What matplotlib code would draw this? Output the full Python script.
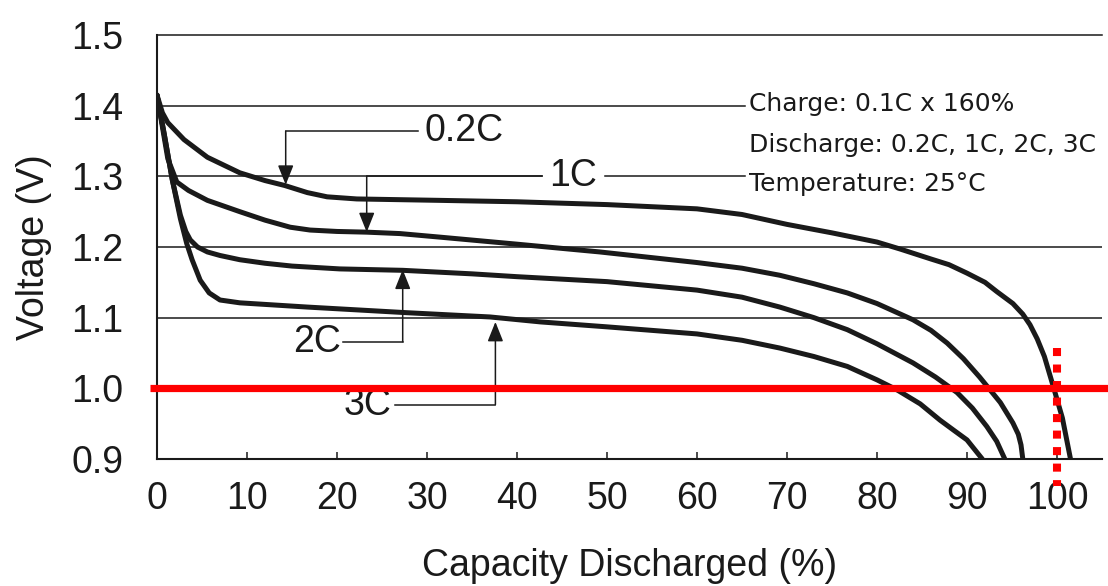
import matplotlib
matplotlib.use("Agg")
import matplotlib.pyplot as plt

# ---- data ----
x_02c = [0, 0.6, 1.2, 3, 5.6, 9.2, 12, 14.2, 16.7, 18.9, 22.2, 31.4, 40, 50, 60, 65, 70, 75, 80,
         82.6, 86, 88, 90, 92, 93.3, 95.1, 96.2, 97, 97.8, 98.6, 99.6, 100.6, 101.5]
v_02c = [1.415, 1.39, 1.376, 1.352, 1.327, 1.305, 1.294, 1.287, 1.277, 1.271, 1.268, 1.266, 1.264,
         1.26, 1.254, 1.246, 1.232, 1.22, 1.207, 1.197, 1.183, 1.175, 1.163, 1.15, 1.137, 1.12,
         1.105, 1.09, 1.07, 1.045, 1.002, 0.958, 0.9]

x_1c = [0, 0.6, 1.2, 2.2, 3.5, 5.6, 9.2, 12, 14.8, 17, 20, 23.3, 27, 31.4, 40, 49.2, 60, 65, 69.2,
        73, 76.7, 80, 84, 86, 87.8, 89.6, 91.4, 93.7, 95.1, 95.7, 96.0, 96.2]
v_1c = [1.415, 1.37, 1.325, 1.292, 1.28, 1.266, 1.25, 1.238, 1.228, 1.224, 1.222, 1.221, 1.219,
        1.214, 1.204, 1.193, 1.178, 1.17, 1.16, 1.148, 1.135, 1.12, 1.097, 1.082, 1.064, 1.042,
        1.016, 0.98, 0.951, 0.935, 0.92, 0.9]

x_2c = [0, 0.8, 1.7, 2.6, 3.2, 3.7, 4.5, 5.6, 7, 9.2, 12, 15, 20.3, 27.3, 35, 40, 50, 60, 65, 69.2,
        73, 76.7, 80, 84, 86.5, 88.9, 90.6, 92.2, 93.3, 94.2]
v_2c = [1.415, 1.36, 1.295, 1.245, 1.222, 1.21, 1.2, 1.193, 1.188, 1.182, 1.177, 1.173, 1.169,
        1.167, 1.162, 1.158, 1.151, 1.139, 1.129, 1.115, 1.1, 1.083, 1.063, 1.036, 1.016, 0.994,
        0.972, 0.946, 0.925, 0.9]

x_3c = [0, 0.8, 1.7, 2.6, 3.3, 3.9, 4.8, 5.8, 7, 9.2, 16.7, 27.8, 37, 42.6, 50, 60, 65, 69.2, 73,
        76.7, 80, 82.2, 84.8, 87, 88.6, 90, 91.7]
v_3c = [1.415, 1.36, 1.295, 1.24, 1.205, 1.182, 1.153, 1.135, 1.125, 1.121, 1.115, 1.107, 1.101,
        1.094, 1.087, 1.077, 1.068, 1.057, 1.045, 1.031, 1.012, 0.998, 0.978, 0.955, 0.94, 0.927,
        0.9]

x_ticks = [0, 10, 20, 30, 40, 50, 60, 70, 80, 90, 100]
y_ticks = [0.9, 1.0, 1.1, 1.2, 1.3, 1.4, 1.5]
y_tick_labels = ["0.9", "1.0", "1.1", "1.2", "1.3", "1.4", "1.5"]

curve_labels = ["0.2C", "1C", "2C", "3C"]
info_lines = ["Charge: 0.1C x 160%", "Discharge: 0.2C, 1C, 2C, 3C", "Temperature: 25\u00b0C"]
cutoff_voltage = 1.0
nominal_capacity = 100

plt.rcParams['font.family'] = ['Liberation Sans', 'DejaVu Sans']

fig = plt.figure(figsize=(11.08, 5.86), dpi=100)
ax = fig.add_axes([157/1108, (586-459)/586, 945/1108, 424/586])
ax.set_xlim(0, 105)
ax.set_ylim(0.9, 1.5)

ink = '#1a1a1a'

# grid lines (some are partial, ending at the annotations)
grid_kw = dict(color=ink, lw=1.1, zorder=1)
ax.plot([0, 105], [1.5, 1.5], **grid_kw, clip_on=False)
ax.plot([0, 65.3], [1.4, 1.4], **grid_kw)
ax.plot([0, 42.8], [1.3, 1.3], **grid_kw)
ax.plot([49.8, 65.3], [1.3, 1.3], **grid_kw)
ax.plot([0, 105], [1.2, 1.2], **grid_kw)
ax.plot([0, 105], [1.1, 1.1], **grid_kw)

# curves
for xs, vs in [(x_02c, v_02c), (x_1c, v_1c), (x_2c, v_2c), (x_3c, v_3c)]:
    ax.plot(xs, vs, color=ink, lw=3.6, solid_capstyle='round',
            solid_joinstyle='round', zorder=3)

# red cut-off line and 100% marker
ax.plot([-0.8, 105.8], [cutoff_voltage, cutoff_voltage], color='#ff0000', lw=5.2,
        zorder=4, clip_on=False, solid_capstyle='butt')
ax.plot([nominal_capacity, nominal_capacity], [1.057, 0.862], color='#ff0000', lw=5.8,
        linestyle=(0, (1, 1.05)), zorder=5, clip_on=False, dash_capstyle='butt')

# leader lines with arrows
lead_kw = dict(color=ink, lw=1.1, zorder=2)
arrow_kw = dict(arrowstyle='-|>,head_length=1.2,head_width=0.48', color=ink,
                lw=1.1, shrinkA=0, shrinkB=0)

# 0.2C
ax.plot([14.3, 29.0], [1.364, 1.364], **lead_kw)
ax.annotate('', xy=(14.3, 1.288), xytext=(14.3, 1.364), arrowprops=arrow_kw, zorder=2)
ax.text(29.7, 1.364, curve_labels[0], fontsize=27, va='center', ha='left', color=ink)
# 1C
ax.plot([23.3, 42.8], [1.3, 1.3], **lead_kw)
ax.annotate('', xy=(23.3, 1.221), xytext=(23.3, 1.3), arrowprops=arrow_kw, zorder=2)
ax.text(46.2, 1.3, curve_labels[1], fontsize=27, va='center', ha='center', color=ink)
# 2C
ax.plot([20.7, 27.3], [1.066, 1.066], **lead_kw)
ax.annotate('', xy=(27.3, 1.168), xytext=(27.3, 1.066), arrowprops=arrow_kw, zorder=2)
ax.text(20.4, 1.066, curve_labels[2], fontsize=27, va='center', ha='right', color=ink)
# 3C
ax.plot([26.4, 37.6], [0.977, 0.977], **lead_kw)
ax.annotate('', xy=(37.6, 1.094), xytext=(37.6, 0.977), arrowprops=arrow_kw, zorder=2)
ax.text(26.1, 0.977, curve_labels[3], fontsize=27, va='center', ha='right', color=ink)

# test conditions
for txt, yv in zip(info_lines, [1.402, 1.344, 1.289]):
    ax.text(65.8, yv, txt, fontsize=18, family=['DejaVu Sans'], va='center', ha='left',
            color=ink)

# axes styling
for s in ['top', 'right']:
    ax.spines[s].set_visible(False)
for s in ['left', 'bottom']:
    ax.spines[s].set_linewidth(1.5)
    ax.spines[s].set_color(ink)
ax.spines['bottom'].set_bounds(0, 105)

ax.set_xticks(x_ticks)
ax.set_xticklabels([str(t) for t in x_ticks])
ax.set_yticks(y_ticks)
ax.set_yticklabels(y_tick_labels)
ax.tick_params(axis='x', direction='in', length=5, width=1.1, labelsize=27, pad=16,
               colors=ink)
ax.tick_params(axis='y', length=0, labelsize=27, pad=24, colors=ink)

ax.set_xlabel('Capacity Discharged (%)', fontsize=27, labelpad=22, color=ink)
ax.set_ylabel('Voltage (V)', fontsize=27, labelpad=14, color=ink)

fig.savefig('out.png', dpi=100)
